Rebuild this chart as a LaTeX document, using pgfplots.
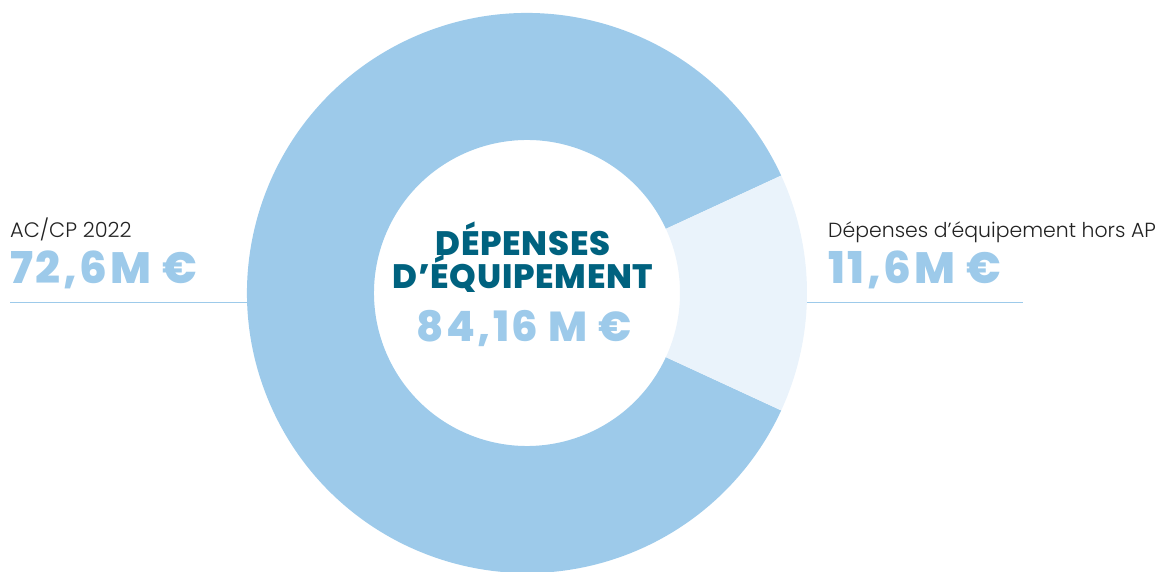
\documentclass[border=0pt]{standalone}
\usepackage{fontspec}
\setmainfont{Poppins}[UprightFont=* Light, BoldFont=* ExtraBold]
\usepackage{pgfplots}
\pgfplotsset{compat=1.18}
\usepackage{pgfplotstable}
\usetikzlibrary{calc}
\definecolor{mainblue}{HTML}{9DCAEA}
\definecolor{paleblue}{HTML}{EAF3FB}
\definecolor{darkteal}{HTML}{00627F}
\definecolor{txt}{HTML}{222222}

\pgfplotstableread{
cat value
ACCP 72.6
HorsAP 11.6
}\depenses

\begin{document}%
\begin{tikzpicture}
\pgfplotstablegetelem{0}{value}\of\depenses \let\va\pgfplotsretval
\pgfplotstablegetelem{1}{value}\of\depenses \let\vb\pgfplotsretval
\pgfmathsetmacro\half{\vb/(\va+\vb)*180}
\pgfmathsetmacro\endang{360-\half}
\useasboundingbox (0,0) rectangle (1168bp,572bp);
\begin{axis}[hide axis, scale only axis, width=1168bp, height=572bp,
  xmin=0, xmax=1168, ymin=0, ymax=572, clip=true, at={(0,0)}, anchor=south west]
% large slice
\fill[mainblue] ($(axis cs:527,279)+(\half:280bp)$)
   arc[start angle=\half, end angle=\endang, radius=280bp]
   -- ($(axis cs:527,279)+(\endang:153bp)$)
   arc[start angle=\endang, end angle=\half, radius=153bp] -- cycle;
% small slice
\fill[paleblue] ($(axis cs:527,279)+(-\half:280bp)$)
   arc[start angle=-\half, end angle=\half, radius=280bp]
   -- ($(axis cs:527,279)+(\half:153bp)$)
   arc[start angle=\half, end angle=-\half, radius=153bp] -- cycle;
% leader lines
\draw[mainblue, line width=1.5bp] (axis cs:10,269.5) -- (axis cs:247,269.5);
\draw[mainblue, line width=1.5bp] (axis cs:807,269.5) -- (axis cs:1023,269.5);
% left labels
\node[anchor=base west, inner sep=0, text=txt, font=\fontsize{21}{24}\selectfont] at (axis cs:10,334) {AC/CP 2022};
\node[anchor=base west, inner sep=0, text=mainblue, font=\fontsize{44}{48}\selectfont\bfseries\addfontfeatures{LetterSpace=6}] at (axis cs:10,288) {72,6M €};
% right labels
\node[anchor=base west, inner sep=0, text=txt, font=\fontsize{20.5}{24}\selectfont] at (axis cs:828,334) {Dépenses d’équipement hors AP};
\node[anchor=base west, inner sep=0, text=mainblue, font=\fontsize{44}{48}\selectfont\bfseries\addfontfeatures{LetterSpace=6}] at (axis cs:828,288) {11,6M €};
% centre
\node[anchor=base, inner sep=0, text=darkteal, font=\fontsize{34}{40}\selectfont\bfseries\addfontfeatures{LetterSpace=2}] at (axis cs:523,316) {DÉPENSES};
\node[anchor=base, inner sep=0, text=darkteal, font=\fontsize{34}{40}\selectfont\bfseries\addfontfeatures{LetterSpace=2}] at (axis cs:523,283) {D’ÉQUIPEMENT};
\node[anchor=base, inner sep=0, text=mainblue, font=\fontsize{42}{46}\selectfont\bfseries\addfontfeatures{LetterSpace=6}] at (axis cs:524,230) {84,16 M €};
\end{axis}
\end{tikzpicture}%
\end{document}
